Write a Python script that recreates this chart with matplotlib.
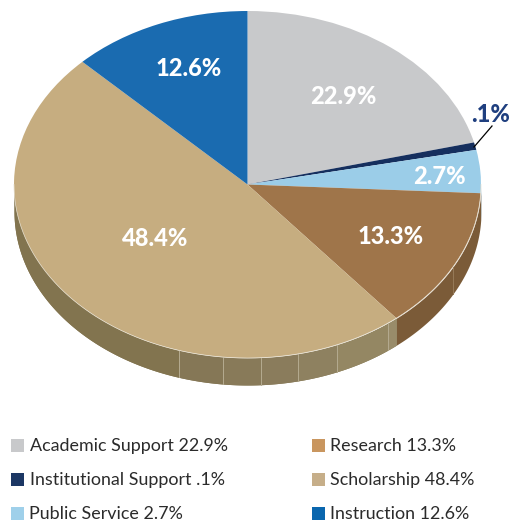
import numpy as np
import matplotlib
matplotlib.use('Agg')
import matplotlib.pyplot as plt
from matplotlib.patches import Rectangle

W, H = 511, 521
plt.rcParams['font.family'] = ['Lato', 'DejaVu Sans']

# slices, clockwise from 12 o'clock
categories = ['Academic Support', 'Institutional Support', 'Public Service',
              'Research', 'Scholarship', 'Instruction']
value_labels = ['22.9%', '.1%', '2.7%', '13.3%', '48.4%', '12.6%']
# share of the ellipse each slice really takes up in the drawing
drawn_shares = [21.1, 0.7, 4.0, 13.2, 48.5, 12.5]
top_colors = ['#c8c9cb', '#152f5e', '#9bcde8', '#9f754a', '#c6ad80', '#1a6bb0']
side_colors = ['#a0a0a2', '#0f2345', '#7ba4ba', '#7b5b38', '#82744f', '#145589']
legend_colors = ['#c8c9cb', '#1c3764', '#9fd0ea', '#c9965f', '#c6ae89', '#0a66ae']

# facets on the front wall of the scholarship slice (pixel x, colour)
facet_edges = [14, 179, 223, 261, 298, 337, 388, 397]
facet_colors = ['#82744f', '#857756', '#887a59', '#8a7c5c', '#8e8160', '#948763', '#998c6a']
brown_line_x = 453

# legend rows: (square x, text x, pixel y)
legend_pos = [(11, 30, 446), (11, 30, 480), (11, 29, 514),
              (312, 330, 446), (312, 330, 480), (312, 330, 514)]
label_pos = [(343, 96), (510, 115), (439, 176), (391, 236), (155, 238), (189, 68)]

cx, cy, rx, ry = 247.5, 184.5, 233.5, 173.5
depth = 27 / ry


def px(x, y):
    return (x - cx) / rx, (cy - y) / ry


fig = plt.figure(figsize=(W / 100, H / 100), dpi=100)
ax = fig.add_axes([0, 0, 1, 1])

# side wall first, then the top goes over it
edges = np.cumsum([0] + drawn_shares) / 100 * 2 * np.pi
for i in range(len(drawn_shares)):
    lo = max(edges[i], np.pi / 2)
    hi = min(edges[i + 1], 3 * np.pi / 2)
    if hi <= lo:
        continue
    th = np.linspace(lo, hi, 200)
    xs = np.sin(th)
    ax.fill_between(xs, np.cos(th), np.cos(th) - depth, color=side_colors[i], lw=0, zorder=1)

th = np.linspace(np.pi / 2, 3 * np.pi / 2, 1500)
xs = np.sin(th)
for j in range(len(facet_colors)):
    a = px(facet_edges[j], 0)[0]
    b = px(facet_edges[j + 1], 0)[0]
    m = (xs >= a) & (xs <= b) & (th > edges[4]) & (th < edges[5])
    ax.fill_between(xs[m], np.cos(th[m]), np.cos(th[m]) - depth, color=facet_colors[j], lw=0, zorder=1.5)
    if j > 0:
        k = np.where(m)[0]
        k = k[np.argmin(np.abs(xs[k] - a))]
        ax.plot([a, a], [np.cos(th[k]), np.cos(th[k]) - depth], color='#b5ab90', lw=0.7, zorder=1.6)

# thin line on the brown wall
a = px(brown_line_x, 0)[0]
yy = -np.sqrt(1 - a * a)
ax.plot([a, a], [yy, yy - depth], color='#967a58', lw=0.7, zorder=1.6)

ax.pie(drawn_shares, colors=top_colors, startangle=90, counterclock=False,
       radius=1, wedgeprops={'linewidth': 0, 'zorder': 2})
ax.plot(xs, np.cos(th), color='#e6dfcf', lw=0.5, zorder=3)

ax.set_aspect('auto')
ax.set_xlim(px(0, 0)[0], px(W, 0)[0])
ax.set_ylim(px(0, H)[1], px(0, 0)[1])
ax.axis('off')

for txt, (x, y) in zip(value_labels, label_pos):
    col = '#1f3f7f' if txt == '.1%' else 'white'
    ax.text(*px(x, y), txt, color=col, fontsize=17, fontweight=900,
            ha='right' if txt == '.1%' else 'center', va='center', zorder=5)
ax.plot(*zip(px(492, 126), px(474, 147)), color='black', lw=0.9, zorder=4)

for name, val, col, (sx, tx, y) in zip(categories, value_labels, legend_colors, legend_pos):
    fig.add_artist(Rectangle((sx / W, 1 - (y - 1 + 6.5) / H), 13 / W, 13 / H, color=col, lw=0,
                             transform=fig.transFigure))
    fig.text(tx / W, 1 - y / H, name + ' ' + val, fontsize=12.9, color='#2b2b2b',
             ha='left', va='center')

fig.savefig('out.png', dpi=100)
